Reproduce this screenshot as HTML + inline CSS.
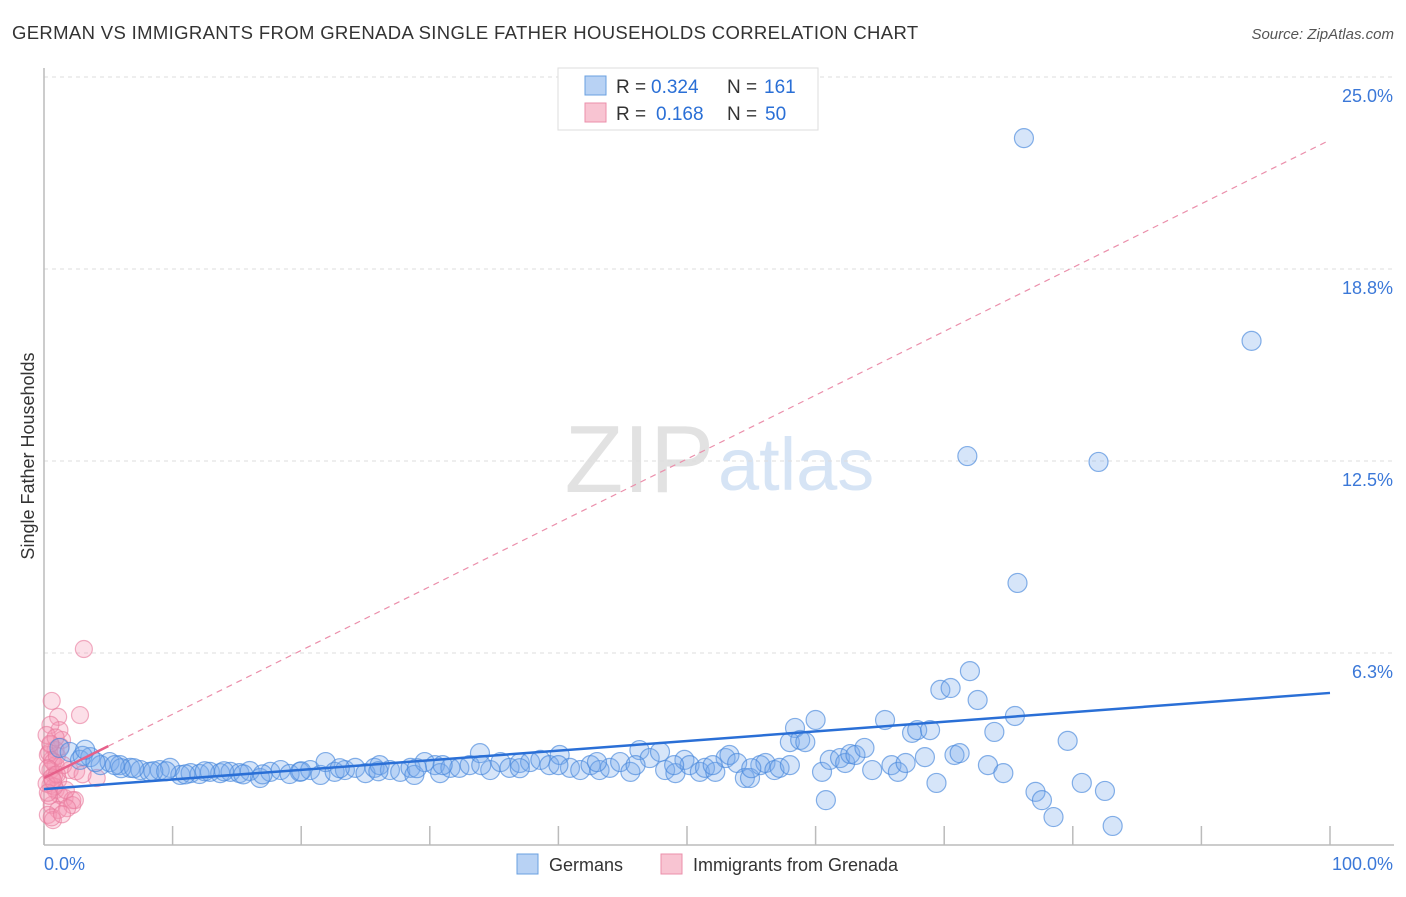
<!DOCTYPE html>
<html><head><meta charset="utf-8"><style>
body{margin:0;background:#fff;font-family:"Liberation Sans",sans-serif;}
svg text{font-family:"Liberation Sans",sans-serif;}
</style></head><body>
<svg id="c" width="1406" height="892">
<text x="12" y="39" font-size="18.5" letter-spacing="0.35" fill="#333">GERMAN VS IMMIGRANTS FROM GRENADA SINGLE FATHER HOUSEHOLDS CORRELATION CHART</text>
<text x="1394" y="39" font-size="15" fill="#555" font-style="italic" text-anchor="end">Source: ZipAtlas.com</text>
<text x="714" y="492" font-size="96" fill="#e2e2e2" text-anchor="end" font-family="Liberation Serif">ZIP</text>
<text x="718" y="490" font-size="74" fill="#d6e4f5">atlas</text>
<text transform="translate(34,456) rotate(-90)" font-size="18" fill="#333" text-anchor="middle">Single Father Households</text>
<g id="grid"></g><g id="pts"></g><g id="lines"></g>
<g>
<rect x="558" y="68" width="260" height="62" fill="#fff" stroke="#ddd"/>
<rect x="585" y="76" width="21" height="19" fill="#b8d2f4" stroke="#6aa0e0"/>
<rect x="585" y="103" width="21" height="19" fill="#f8c4d2" stroke="#eb8fab"/>
<text x="616" y="93" font-size="19" fill="#333">R =</text>
<text x="651" y="93" font-size="19" fill="#2a6fd6">0.324</text>
<text x="727" y="93" font-size="19" fill="#333">N =</text>
<text x="764" y="93" font-size="19" fill="#2a6fd6">161</text>
<text x="616" y="120" font-size="19" fill="#333">R =</text>
<text x="656" y="120" font-size="19" fill="#2a6fd6">0.168</text>
<text x="727" y="120" font-size="19" fill="#333">N =</text>
<text x="765" y="120" font-size="19" fill="#2a6fd6">50</text>
</g>
<g>
<rect x="517" y="854" width="21" height="20" fill="#b8d2f4" stroke="#6aa0e0"/>
<text x="549" y="871" font-size="18" fill="#333">Germans</text>
<rect x="661" y="854" width="21" height="20" fill="#f8c4d2" stroke="#eb8fab"/>
<text x="693" y="871" font-size="18" fill="#333">Immigrants from Grenada</text>
</g>
</svg>
<script>
const blueX=[1.2,2.0,2.8,3.6,4.4,5.1,5.9,6.7,7.5,8.2,9.0,9.8,10.6,11.4,12.1,12.9,13.7,14.5,15.2,16.0,16.8,17.6,18.4,19.1,19.9,20.7,21.5,21.9,22.6,23.4,24.2,25.0,25.7,26.1,26.9,27.7,28.5,28.8,29.6,30.4,30.8,31.6,32.3,33.1,33.9,34.7,35.5,36.2,37.0,37.8,38.6,39.3,40.1,40.9,41.7,42.5,43.2,44.0,44.8,45.6,46.3,47.1,47.9,48.3,49.1,49.8,50.2,51.0,51.4,52.2,53.0,53.3,53.9,54.5,54.9,55.7,56.1,56.8,57.2,58.4,58.0,58.8,59.2,60.0,60.5,60.8,61.1,61.9,62.3,62.7,63.1,63.8,64.4,65.4,65.9,66.4,67.0,67.5,67.9,68.5,68.9,69.4,69.7,70.5,70.8,71.2,72.0,72.6,73.4,73.9,74.6,75.5,75.7,77.1,77.6,78.5,79.6,80.7,82.0,82.5,83.1,71.8,76.2,93.9,3.0,4.0,6.0,8.5,11,14,17,20,23,26,29,31,34,37,40,43,46,49,52,55,58,3.2,5.5,7,9.5,12.5,15.5];
const blueY=[3.16,3.03,2.77,2.86,2.60,2.70,2.60,2.51,2.44,2.38,2.44,2.51,2.28,2.34,2.31,2.38,2.34,2.38,2.34,2.41,2.18,2.38,2.44,2.31,2.38,2.44,2.28,2.70,2.38,2.44,2.51,2.34,2.51,2.60,2.44,2.38,2.51,2.28,2.70,2.60,2.34,2.51,2.51,2.60,2.99,2.44,2.70,2.51,2.67,2.70,2.77,2.60,2.93,2.51,2.44,2.60,2.44,2.51,2.70,2.38,3.09,2.83,3.03,2.44,2.34,2.77,2.60,2.38,2.51,2.38,2.83,2.93,2.67,2.18,2.18,2.60,2.67,2.44,2.51,3.81,3.35,3.42,3.35,4.07,2.38,1.46,2.77,2.83,2.67,2.96,2.93,3.16,2.44,4.07,2.60,2.38,2.67,3.65,3.74,2.86,3.74,2.02,5.05,5.11,2.93,2.99,5.66,4.72,2.60,3.68,2.34,4.20,8.53,1.73,1.46,0.91,3.39,2.02,12.47,1.76,0.62,12.66,23.01,16.41,2.9,2.7,2.5,2.4,2.3,2.4,2.3,2.4,2.5,2.4,2.5,2.6,2.6,2.5,2.6,2.7,2.6,2.6,2.6,2.5,2.6,3.1,2.6,2.5,2.4,2.4,2.3];
const pinkX=[0.6,3.1,2.8,1.1,1.2,1.4,0.5,0.9,0.3,0.6,0.9,0.5,0.8,1.1,0.5,0.9,1.2,1.6,2.2,0.6,1.1,0.3,0.7,2.2,4.1,2.4,1.7,2.0,0.5,0.2,0.4,0.7,1.0,1.3,0.3,0.6,0.8,1.5,2.5,0.4,0.9,1.8,0.2,0.6,1.0,0.3,0.5,3.0,1.4,0.7];
const pinkY=[4.69,6.38,4.23,4.17,3.74,3.42,3.26,3.09,2.93,2.77,2.60,2.44,2.28,2.12,1.95,1.79,1.63,1.53,1.46,1.30,1.14,0.98,0.81,1.30,2.18,1.46,1.79,2.44,3.91,3.58,3.0,2.7,2.9,3.2,2.5,2.2,1.9,2.6,2.4,1.6,3.5,1.2,2.0,0.9,2.3,1.7,3.3,2.3,1.0,2.1];
const blueFit=[1.82,4.95];
const pinkFit=[2.18,22.95];
const yTicks=[6.25,12.5,18.75,25];
const yTickLabels=["6.3%","12.5%","18.8%","25.0%"];
const xTickVals=[0,10,20,30,40,50,60,70,80,90,100];
const NS="http://www.w3.org/2000/svg";
function X(p){return 44+p*12.86;}
function Y(v){return 845-v*30.72;}
function mk(tag,attrs,parent){const e=document.createElementNS(NS,tag);for(const k in attrs)e.setAttribute(k,attrs[k]);parent.appendChild(e);return e;}
const grid=document.getElementById('grid'),pts=document.getElementById('pts'),lines=document.getElementById('lines');
yTicks.forEach((t,i)=>{
 const l=mk('line',{x1:44,x2:1394,y1:Y(t),y2:Y(t),stroke:'#ddd','stroke-dasharray':'4,4'},grid);
 
 
 const tx=mk('text',{x:1393,y:Y(t)+25,'font-size':18,fill:'#3b78d8','text-anchor':'end'},grid);
 tx.textContent=yTickLabels[i];
 
 
});
const ax=mk('line',{x1:44,x2:1394,y1:845,y2:845,stroke:'#bbb','stroke-width':1.5},grid);


const ay=mk('line',{x1:44,x2:44,y1:68,y2:845,stroke:'#bbb','stroke-width':1.5},grid);


xTickVals.forEach(t=>{
 const l=mk('line',{x1:X(t),x2:X(t),y1:826,y2:845,stroke:'#bbb','stroke-width':1.5},grid);
 
 
});
const xl=mk('text',{x:44,y:870,'font-size':18,fill:'#3b78d8'},grid);xl.textContent='0.0%';


const xr=mk('text',{x:1393,y:870,'font-size':18,fill:'#3b78d8','text-anchor':'end'},grid);xr.textContent='100.0%';


pinkX.forEach((x,i)=>{
 const c=mk('circle',{cx:X(x),cy:Y(pinkY[i]),r:8.5,fill:'rgba(244,150,180,0.3)',stroke:'rgba(232,120,155,0.6)','stroke-width':1.2},pts);
 
 
});
blueX.forEach((x,i)=>{
 const c=mk('circle',{cx:X(x),cy:Y(blueY[i]),r:9.5,fill:'rgba(120,170,235,0.3)',stroke:'rgba(70,135,220,0.65)','stroke-width':1.2},pts);
 
 
});
const pd=mk('line',{x1:X(5),y1:Y(pinkFit[0]+(pinkFit[1]-pinkFit[0])*0.05),x2:X(100),y2:Y(pinkFit[1]),stroke:'#eb8fab','stroke-width':1.2,'stroke-dasharray':'6,5'},lines);


const ps=mk('line',{x1:X(0),y1:Y(pinkFit[0]),x2:X(5),y2:Y(pinkFit[0]+(pinkFit[1]-pinkFit[0])*0.05),stroke:'#e6608a','stroke-width':2.5},lines);


const bl=mk('line',{x1:X(0),y1:Y(blueFit[0]),x2:X(100),y2:Y(blueFit[1]),stroke:'#2a6fd6','stroke-width':2.5},lines);


</script>
</body></html>
